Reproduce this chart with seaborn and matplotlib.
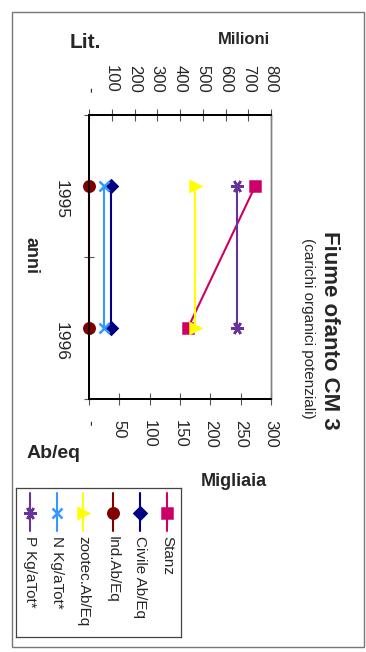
import matplotlib
matplotlib.use("Agg")
import matplotlib.pyplot as plt
from matplotlib.patches import Rectangle
import pandas as pd
import seaborn as sns

# --- data ---
anni = ["1995", "1996"]
serie = ["Stanz", "Civile Ab/Eq", "Ind.Ab/Eq", "zootec.Ab/Eq", "N Kg/aTot*", "P Kg/aTot*"]
stanz = [274, 163]
civile = [36, 36]
ind = [0, 0]
zootec = [175, 175]
n_kg = [25, 25]
p_kg = [244, 244]
valori = [stanz, civile, ind, zootec, n_kg, p_kg]

tick_migliaia = [0, 50, 100, 150, 200, 250, 300]
label_migliaia = ["-", "50", "100", "150", "200", "250", "300"]
tick_milioni = [0, 100, 200, 300, 400, 500, 600, 700, 800]
label_milioni = ["-", "100", "200", "300", "400", "500", "600", "700", "800"]

colori = ["#CC0066", "#000080", "#800000", "#FFFF00", "#3399FF", "#663399"]
marker = ["s", "D", "o", ">", "x", (6, 2, 90)]
msize = [7, 6, 7.5, 7, 7, 9]

sns.set_theme(style="white")
plt.rcParams["font.family"] = ["Liberation Sans", "DejaVu Sans"]

W, H = 366, 652
fig = plt.figure(figsize=(W / 100, H / 100), dpi=100)

def fx(px):
    return px / W

def fy(py):
    return 1 - py / H

# chart is stored rotated 90 deg clockwise: value axis horizontal, years vertical
ax = fig.add_axes([fx(89), fy(399), fx(271) - fx(89), fy(115) - fy(399)])

pos = [0.5, 1.5]
for nome, vals, c, m, ms in zip(serie, valori, colori, marker, msize):
    df = pd.DataFrame({"valore": vals, "pos": pos})
    sns.lineplot(data=df, x="valore", y="pos", ax=ax, color=c, marker=m,
                 markersize=ms, markeredgecolor=c, markeredgewidth=1.8,
                 lw=1.5, sort=False, estimator=None, clip_on=False)

ax.set_xlim(0, 300)
ax.set_ylim(2, 0)
ax.set_xlabel("")
ax.set_ylabel("")

# year axis (left spine)
ax.set_yticks([0, 1, 2])
ax.set_yticklabels([])
ax.set_yticks(pos, minor=True)
ax.set_yticklabels(anni, minor=True, rotation=270, fontsize=12.5)
ax.tick_params(axis="y", which="major", direction="inout", length=7, width=0.8,
               color="#555555", left=True)
ax.tick_params(axis="y", which="minor", length=0, pad=15, left=True)

# bottom axis: Migliaia
ax.set_xticks(tick_migliaia)
ax.set_xticklabels(label_migliaia, rotation=270, fontsize=12)
for t in ax.get_xticklabels():
    t.set_va("top")
ax.tick_params(axis="x", direction="inout", length=8, width=0.8, color="#555555",
               pad=11, bottom=True)

# top axis: Milioni
ax2 = ax.twiny()
ax2.set_xlim(0, 800)
ax2.set_xticks(tick_milioni)
ax2.set_xticklabels(label_milioni, rotation=270, fontsize=12)
for t in ax2.get_xticklabels():
    t.set_va("bottom")
ax2.tick_params(axis="x", direction="inout", length=8, width=0.8, color="#555555",
                pad=12, top=True)

for a in (ax, ax2):
    for s in ("left", "top", "bottom"):
        a.spines[s].set_color("black")
        a.spines[s].set_linewidth(1.3)
    a.spines["right"].set_color("#808080")
    a.spines["right"].set_linewidth(1.0)
ax.set_zorder(ax2.get_zorder() + 1)
ax.patch.set_visible(False)

# axis titles
fig.text(fx(85), fy(43), "Lit.", fontsize=15, fontweight="bold", ha="center", va="center")
fig.text(fx(244), fy(39), "Milioni", fontsize=12, fontweight="bold", ha="center", va="center")
fig.text(fx(54), fy(453), "Ab/eq", fontsize=14, fontweight="bold", ha="center", va="center")
fig.text(fx(234), fy(482), "Migliaia", fontsize=13, fontweight="bold", ha="center", va="center")
fig.text(fx(31), fy(256), "anni", fontsize=13, fontweight="bold", rotation=270,
         ha="center", va="center")

# title
fig.text(fx(330), fy(330), "Fiume ofanto CM 3", fontsize=16, fontweight="bold",
         rotation=270, ha="center", va="center")
fig.text(fx(308), fy(328), "(carichi organici potenziali)", fontsize=11,
         rotation=270, ha="center", va="center")

# legend (rotated, drawn by hand)
lax = fig.add_axes([fx(16), fy(637), fx(181) - fx(16), fy(488) - fy(637)])
lax.set_xlim(16, 181)
lax.set_ylim(637, 488)
lax.set_xticks([])
lax.set_yticks([])
for s in lax.spines.values():
    s.set_color("#444444")
    s.set_linewidth(0.9)
leg_x = [167, 140, 113, 83, 57, 30]
for nome, c, m, ms, x in zip(serie, colori, marker, msize, leg_x):
    lax.plot([x, x], [493, 531], color=c, lw=1.5)
    lax.plot([x], [513], color=c, marker=m, markersize=ms, markeredgecolor=c,
             markeredgewidth=1.8)
    lax.text(x, 536, nome, rotation=270, ha="center", va="top", fontsize=11)

# outer frame
fig.patches.append(Rectangle((fx(12), fy(647)), fx(364) - fx(12), fy(12) - fy(647),
                             transform=fig.transFigure, fill=False,
                             edgecolor="#777777", lw=1.0))

fig.savefig("out.png", dpi=100)
